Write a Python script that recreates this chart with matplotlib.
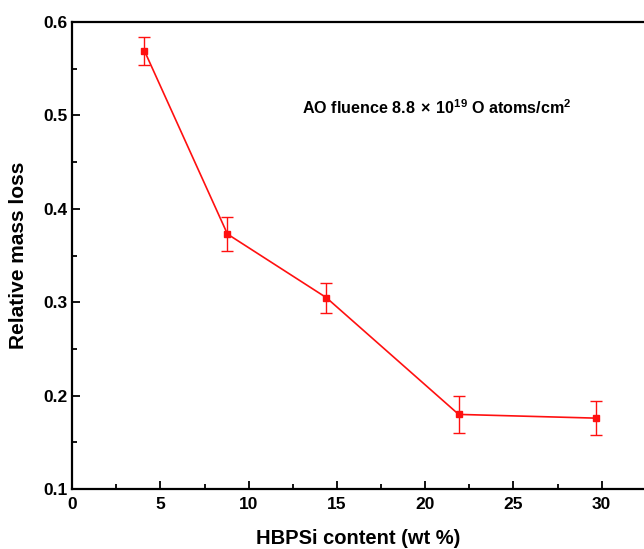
import matplotlib
matplotlib.use('Agg')
import matplotlib.pyplot as plt
from matplotlib.ticker import MultipleLocator

# donnees
contenu = [4.1, 8.8, 14.4, 21.9, 29.7]      # HBPSi (wt %)
perte = [0.569, 0.373, 0.305, 0.180, 0.176]  # perte de masse relative
erreur = [0.015, 0.018, 0.016, 0.020, 0.018]

plt.rcParams['font.family'] = ['Liberation Sans', 'DejaVu Sans']
plt.rcParams['font.weight'] = 'bold'
plt.rcParams['mathtext.fontset'] = 'custom'
plt.rcParams['mathtext.rm'] = 'Liberation Sans:bold'
plt.rcParams['mathtext.bf'] = 'Liberation Sans:bold'

fig = plt.figure(figsize=(6.44, 5.49), dpi=100)
ax = fig.add_axes([0.112, 0.109, 0.888, 0.851])

ax.errorbar(contenu, perte, yerr=erreur, color='#ff1010', lw=1.2,
            marker='s', ms=4.5, capsize=4, elinewidth=1.0, capthick=1.0)

ax.set_xlim(0, 32.4)
ax.set_ylim(0.1, 0.6)
ax.xaxis.set_major_locator(MultipleLocator(5))
ax.xaxis.set_minor_locator(MultipleLocator(2.5))
ax.yaxis.set_major_locator(MultipleLocator(0.1))
ax.yaxis.set_minor_locator(MultipleLocator(0.05))
ax.tick_params(which='both', direction='in', labelsize=12.5, width=1.3)
ax.tick_params(which='major', length=6)
ax.tick_params(which='minor', length=3.5)
ax.tick_params(axis='x', pad=6)
for lab in ax.get_xticklabels() + ax.get_yticklabels():
    lab.set_fontweight('bold')

ax.spines['right'].set_visible(False)
for s in ['left', 'bottom', 'top']:
    ax.spines[s].set_linewidth(1.6)

ax.set_xlabel('HBPSi content (wt %)', fontsize=14.5, fontweight='bold', labelpad=12)
ax.set_ylabel('Relative mass loss', fontsize=15, fontweight='bold', labelpad=11)

ax.text(13.0, 0.508, r'AO fluence 8.8$\,\times\,$10$^{\mathbf{19}}$ O atoms/cm$^{\mathbf{2}}$',
        fontsize=11.6, fontweight='bold', va='center')

fig.savefig('out.png', dpi=100)
